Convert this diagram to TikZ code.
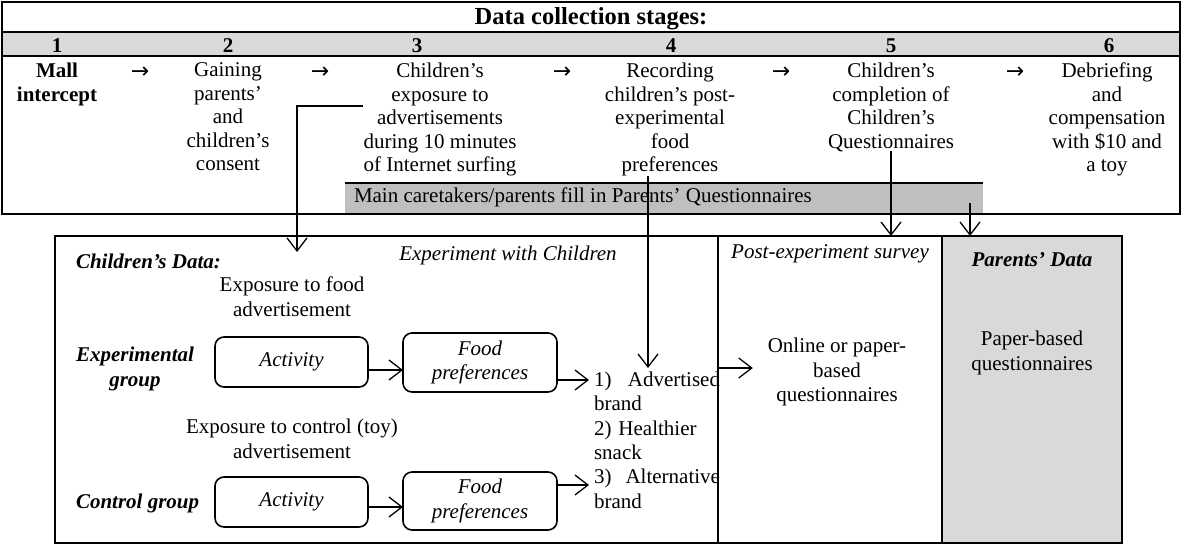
\documentclass[tikz,border=0pt]{standalone}
\usepackage{fontspec}
\setmainfont{Liberation Serif}
\newfontfamily\arrowfont{DejaVu Sans}
\usetikzlibrary{arrows.meta}
\definecolor{rowgray}{HTML}{D9D9D9}
\definecolor{bargray}{HTML}{BFBFBF}
\newcommand{\stagesize}{\fontsize{21}{23.5}\selectfont}
\newcommand{\lowsize}{\fontsize{21}{24.5}\selectfont}
\newcommand{\listsize}{\fontsize{21}{24.3}\selectfont}
\begin{document}
\begin{tikzpicture}[x=1pt,y=-1pt,
  every node/.style={inner sep=0pt, outer sep=0pt},
  stage/.style={font=\stagesize, align=center, anchor=north},
  lowtext/.style={font=\lowsize, align=center, anchor=north},
  num/.style={font=\stagesize\bfseries, anchor=base},
  flowarrow/.style={font=\arrowfont\fontsize{22}{24}\selectfont, anchor=base},
  conn/.style={line width=1.3pt, -{Straight Barb[length=13pt,width=20pt]}},
  rbox/.style={draw, line width=1.6pt, rounded corners=9pt, font=\lowsize\itshape, align=center},
  panel/.style={draw, line width=1.5pt, anchor=north west},
]
\useasboundingbox (0,0) rectangle (1182,544);

% ---------- stages table ----------
\fill[rowgray] (2,32) rectangle (1180,56);
\fill[bargray] (345,183) rectangle (983,214);
\draw[line width=1.8pt] (345,183) -- (983,183);
\draw[line width=2pt] (2,2) rectangle (1180,214);
\draw[line width=2pt] (2,32) -- (1180,32);
\draw[line width=2pt] (2,56) -- (1180,56);

\node[font=\fontsize{24.5}{28}\selectfont\bfseries, anchor=base] (title) at (591,24) {Data collection stages:};

\node[num] (n1) at (57,52) {1};
\node[num] (n2) at (228,52) {2};
\node[num] (n3) at (417,52) {3};
\node[num] (n4) at (671,52) {4};
\node[num] (n5) at (891,52) {5};
\node[num] (n6) at (1109,52) {6};

\node[stage, font=\stagesize\bfseries] (s1) at (57,63) {Mall\\intercept};
\node[stage] (s2) at (228,63) {Gaining\\parents’\\and\\children’s\\consent};
\node[stage] (s3) at (440,63) {Children’s\\exposure to\\advertisements\\during 10 minutes\\of Internet surfing};
\node[stage] (s4) at (670,63) {Recording\\children’s post-\\experimental\\food\\preferences};
\node[stage] (s5) at (891,63) {Children’s\\completion of\\Children’s\\Questionnaires};
\node[stage] (s6) at (1107,63) {Debriefing\\and\\compensation\\with \$10 and\\a toy};

\node[flowarrow] (a12) at (140,78.5) {→};
\node[flowarrow] (a23) at (320,78.5) {→};
\node[flowarrow] (a34) at (562,78.5) {→};
\node[flowarrow] (a45) at (781,78.5) {→};
\node[flowarrow] (a56) at (1015,78.5) {→};

\node[font=\stagesize, anchor=base west] (pq) at (354,202) {Main caretakers/parents fill in Parents’ Questionnaires};

% ---------- data panels ----------
\node[panel, minimum width=663, minimum height=307] (kids) at (55,236) {};
\node[panel, minimum width=224, minimum height=307] (survey) at (718,236) {};
\node[panel, fill=rowgray, minimum width=180, minimum height=307] (parents) at (942,236) {};

\node[font=\lowsize\bfseries\itshape, anchor=base west] (kidsdata) at (76,268) {Children’s Data:};
\node[font=\lowsize\itshape, anchor=base] (exphead) at (508,260) {Experiment with Children};
\node[font=\lowsize\itshape, anchor=base] (surveyhead) at (830,258) {Post-experiment survey};
\node[font=\lowsize\bfseries\itshape, anchor=base] (parhead) at (1032,266) {Parents’ Data};

\node[lowtext] (expfood) at (292,277) {Exposure to food\\advertisement};
\node[lowtext, font=\lowsize\bfseries\itshape] (expgroup) at (135,347) {Experimental\\group};
\node[lowtext] (expctrl) at (292,419) {Exposure to control (toy)\\advertisement};
\node[font=\lowsize\bfseries\itshape, anchor=base west] (ctrlgroup) at (76,508) {Control group};

\node[rbox, minimum width=153, minimum height=50] (act1) at (291.5,362) {Activity};
\node[rbox, minimum width=154, minimum height=59] (food1) at (480,362.5) {Food\\preferences};
\node[rbox, minimum width=153, minimum height=50] (act2) at (291.5,502) {Activity};
\node[rbox, minimum width=154, minimum height=58] (food2) at (480,501) {Food\\preferences};

\node[font=\listsize, anchor=north west, text width=126pt, align=left] (list) at (594,372)
  {1)\hfill Advertised\\brand\\2) Healthier\\snack\\3)\hfill Alternative\\brand};

\node[lowtext] (online) at (837,338) {Online or paper-\\based\\questionnaires};
\node[lowtext] (paperq) at (1032,331) {Paper-based\\questionnaires};

% ---------- connectors ----------
\coordinate (adstart) at (363,106);
\coordinate (adend) at (297,252);
\draw[conn] (adstart) -| (adend);

\draw[conn, shorten >=4pt] ([xshift=-22pt]s4.south) -- ([xshift=-22pt]s4.south |- list.north);
\draw[conn] (s5.south) -- (s5.south |- survey.north);
\coordinate (pqdrop) at (970,203);
\draw[conn] (pqdrop) -- (pqdrop |- parents.north);

\draw[conn] ([yshift=-8pt]act1.east) -- ([yshift=-8pt]act1.east -| food1.west);
\draw[conn] ([yshift=-5pt]act2.east) -- ([yshift=-5pt]act2.east -| food2.west);
\draw[conn, shorten >=5pt] ([yshift=-17.5pt]food1.east) -- ([yshift=-17.5pt]food1.east -| list.west);
\draw[conn, shorten >=5pt] ([yshift=16pt]food2.east) -- ([yshift=16pt]food2.east -| list.west);
\draw[conn, shorten >=15pt] ([yshift=21.5pt]survey.west) -- ([yshift=21.5pt]survey.west -| online.west);
\end{tikzpicture}
\end{document}
